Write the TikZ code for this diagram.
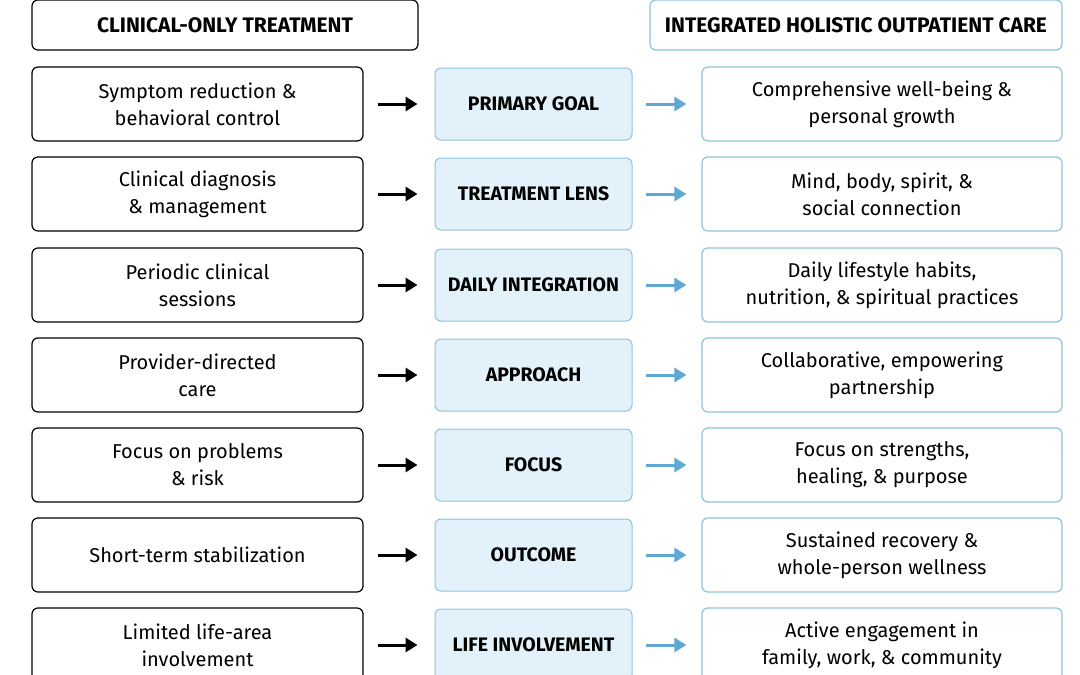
\documentclass[tikz,border=0pt]{standalone}
\usepackage{fontspec}
\setmainfont{Fira Sans}
\usetikzlibrary{arrows.meta}
\definecolor{lineblue}{HTML}{8EC3DC}
\definecolor{fillblue}{HTML}{E3F2FA}
\definecolor{arrblue}{HTML}{5FA8D3}
\tikzset{
  oldbox/.style={draw=black, line width=1.2pt, rounded corners=6pt, fill=white, minimum width=331pt, minimum height=74pt, align=center, font=\fontsize{20}{27}\selectfont},
  newbox/.style={oldbox, draw=lineblue, minimum width=360pt},
  midbox/.style={draw=lineblue, line width=1pt, rounded corners=6pt, fill=fillblue, minimum width=197pt, minimum height=72pt, font=\fontsize{19.5}{22}\selectfont\bfseries},
  head/.style={oldbox, minimum height=50pt, font=\fontsize{21}{22}\selectfont\bfseries},
  goes/.style={-{Triangle[length=12pt,width=14pt]}, line width=3pt},
}
\begin{document}
\begin{tikzpicture}[x=1pt,y=-1pt]
  \useasboundingbox (0,0) rectangle (1080,675);
  \fill[white] (0,0) rectangle (1080,675);

  \node [head, minimum width=386pt] (lhead) at (225,25) {CLINICAL-ONLY TREATMENT};
  \node [head, draw=lineblue, minimum width=412pt] (rhead) at (856,25) {INTEGRATED HOLISTIC OUTPATIENT CARE};

  \foreach \i/\y/\old/\mid/\new in {
    1/104/{Symptom reduction \&\\behavioral control}/PRIMARY GOAL/{Comprehensive well-being \&\\personal growth},
    2/194/{Clinical diagnosis\\\& management}/TREATMENT LENS/{Mind, body, spirit, \&\\social connection},
    3/285/{Periodic clinical\\sessions}/DAILY INTEGRATION/{Daily lifestyle habits,\\nutrition, \& spiritual practices},
    4/375/{Provider-directed\\care}/APPROACH/{Collaborative, empowering\\partnership},
    5/465/{Focus on problems\\\& risk}/FOCUS/{Focus on strengths,\\healing, \& purpose},
    6/555/{Short-term stabilization}/OUTCOME/{Sustained recovery \&\\whole-person wellness},
    7/645/{Limited life-area\\involvement}/LIFE INVOLVEMENT/{Active engagement in\\family, work, \& community}}
  {
    \node [oldbox] (l\i) at (197.5,\y) {\old};
    \node [midbox] (m\i) at (533.5,\y) {\mid};
    \node [newbox] (r\i) at (882,\y) {\new};
    \draw [goes] ([xshift=14pt]l\i.east) -- ([xshift=-17pt]m\i.west);
    \draw [goes, arrblue] ([xshift=13pt]m\i.east) -- ([xshift=-15pt]r\i.west);
  }
\end{tikzpicture}
\end{document}
